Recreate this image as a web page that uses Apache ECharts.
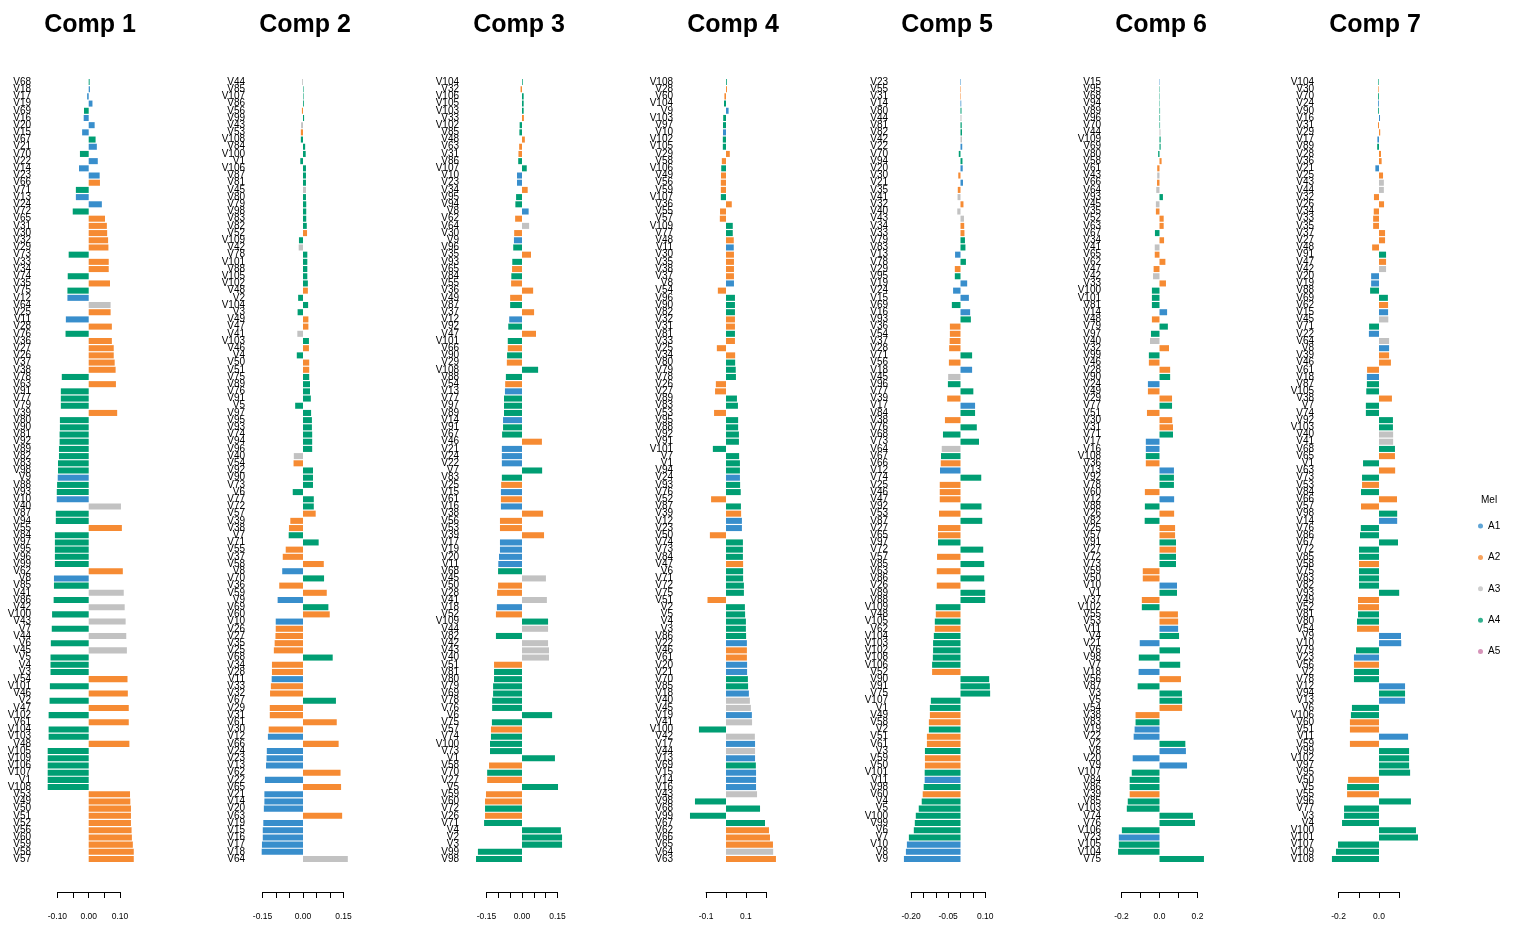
<!DOCTYPE html>
<html><head><meta charset="utf-8">
<script src="https://cdn.jsdelivr.net/npm/echarts@6/dist/echarts.min.js"></script>
<style>html,body{margin:0;padding:0;background:#fff}#chart{width:1513px;height:928px}</style>
</head><body><div id="chart"></div>
<script>
// ---------------- DATA ----------------
const compTitles = ['Comp 1','Comp 2','Comp 3','Comp 4','Comp 5','Comp 6','Comp 7'];
const groupNames = ['A1','A2','A3','A4','A5'];
const groupColors = ['#388ECC','#F68B33','#C2C2C2','#009E73','#CC79A7'];

const groupA1Vars = ['V8','V9','V10','V11','V12','V13','V14','V15','V16','V17','V18','V19','V20','V21','V22','V23','V24'];
const groupA2Vars = ['V25','V26','V27','V28','V29','V30','V31','V32','V33','V34','V35','V36','V37','V38','V39','V46','V47','V48','V49','V50','V51','V52','V53','V54','V55','V56','V57','V58','V59','V60','V61','V62','V63','V65','V66'];
const groupA3Vars = ['V40','V41','V42','V43','V44','V45','V64'];
const groupA4Vars = ['V1','V2','V3','V4','V5','V6','V7','V67','V68','V69','V70','V71','V72','V73','V74','V75','V76','V77','V78','V79','V80','V81','V82','V83','V84','V85','V86','V87','V88','V89','V90','V91','V92','V93','V94','V95','V96','V97','V98','V99','V100','V101','V102','V103','V104','V105','V106','V107','V108','V109'];
const groupA5Vars = [];

const comp1Vars = ['V68','V18','V17','V19','V69','V16','V20','V15','V67','V21','V70','V22','V14','V23','V66','V71','V13','V24','V72','V65','V31','V30','V32','V29','V73','V33','V34','V74','V35','V75','V12','V64','V25','V11','V28','V76','V36','V27','V26','V37','V38','V78','V63','V91','V77','V79','V39','V80','V90','V81','V92','V89','V82','V83','V98','V9','V88','V93','V10','V40','V87','V94','V55','V84','V97','V95','V96','V99','V62','V8','V85','V41','V86','V42','V100','V43','V7','V44','V6','V45','V5','V4','V3','V54','V101','V46','V2','V47','V102','V61','V104','V103','V48','V105','V109','V106','V107','V1','V108','V53','V49','V50','V51','V52','V56','V60','V59','V58','V57'];
const comp1Vals = [0.003,0.004,-0.005,0.012,-0.015,-0.016,0.019,-0.021,0.022,0.026,-0.028,0.029,-0.031,0.035,0.036,-0.041,-0.041,0.042,-0.051,0.052,0.058,0.059,0.062,0.063,-0.064,0.064,0.064,-0.067,0.068,-0.068,-0.068,0.070,0.070,-0.073,0.074,-0.074,0.074,0.080,0.080,0.083,0.086,-0.086,0.087,-0.089,-0.089,-0.089,0.091,-0.092,-0.092,-0.093,-0.093,-0.095,-0.095,-0.098,-0.098,-0.099,-0.101,-0.102,-0.102,0.103,-0.105,-0.105,0.106,-0.108,-0.108,-0.108,-0.108,-0.108,0.109,-0.111,-0.111,0.112,-0.112,0.115,-0.117,0.118,-0.118,0.120,-0.121,0.122,-0.122,-0.122,-0.122,0.124,-0.124,0.125,-0.125,0.128,-0.128,0.128,-0.128,-0.128,0.130,-0.131,-0.131,-0.131,-0.131,-0.131,-0.131,0.132,0.133,0.135,0.135,0.135,0.137,0.138,0.141,0.144,0.144];

const comp2Vars = ['V44','V85','V107','V86','V56','V99','V43','V53','V108','V84','V100','V1','V106','V87','V81','V45','V80','V79','V98','V83','V82','V52','V109','V42','V78','V101','V88','V105','V102','V48','V2','V104','V3','V49','V47','V41','V103','V46','V4','V50','V51','V75','V89','V76','V91','V5','V97','V95','V93','V74','V94','V96','V40','V54','V92','V90','V73','V6','V77','V72','V57','V39','V38','V7','V71','V55','V37','V58','V8','V70','V36','V59','V9','V69','V60','V10','V26','V27','V35','V25','V68','V34','V28','V11','V33','V32','V67','V29','V31','V61','V30','V12','V66','V24','V23','V13','V62','V22','V65','V21','V14','V20','V63','V19','V15','V16','V17','V18','V64'];
const comp2Vals = [-0.003,0.002,0.002,0.003,-0.004,0.004,-0.007,-0.008,-0.008,0.008,0.010,-0.010,0.011,0.011,0.011,0.011,0.011,0.012,0.012,0.012,0.014,0.015,-0.015,-0.016,0.016,0.016,0.016,0.016,0.018,0.018,-0.018,0.019,-0.020,0.020,0.020,-0.021,0.022,0.022,-0.023,0.023,0.023,0.023,0.026,0.026,0.029,-0.029,0.030,0.033,0.033,0.034,0.034,0.034,-0.034,-0.035,0.037,0.037,0.037,-0.038,0.040,0.040,0.047,-0.047,-0.052,-0.053,0.058,-0.064,-0.075,0.077,-0.077,0.078,-0.088,0.088,-0.094,0.094,0.099,-0.101,-0.101,-0.102,-0.105,-0.108,0.110,-0.115,-0.115,-0.116,-0.119,-0.122,0.122,-0.123,-0.123,0.125,-0.127,-0.130,0.132,-0.134,-0.135,-0.137,0.139,-0.141,0.141,-0.143,-0.143,-0.145,0.145,-0.147,-0.149,-0.149,-0.152,-0.153,0.166];

const comp3Vars = ['V104','V32','V106','V105','V103','V33','V102','V85','V48','V63','V31','V86','V107','V10','V23','V34','V95','V94','V8','V62','V64','V30','V9','V96','V35','V93','V65','V84','V55','V36','V49','V87','V37','V12','V92','V47','V101','V66','V90','V29','V108','V88','V54','V13','V77','V97','V89','V14','V91','V67','V46','V21','V24','V22','V7','V83','V25','V15','V61','V16','V38','V56','V53','V39','V17','V19','V20','V11','V68','V45','V50','V28','V41','V18','V52','V109','V44','V82','V42','V43','V40','V51','V81','V80','V79','V69','V78','V76','V6','V75','V57','V74','V100','V73','V1','V58','V70','V27','V5','V59','V60','V72','V26','V71','V4','V2','V3','V99','V98'];
const comp3Vals = [0.003,-0.006,0.007,0.007,0.007,0.008,-0.010,-0.011,0.012,-0.012,-0.015,-0.016,0.020,-0.021,-0.021,0.024,-0.025,-0.028,0.028,-0.029,0.030,-0.033,-0.034,-0.037,0.038,-0.041,-0.042,-0.045,-0.046,0.047,-0.050,-0.050,0.051,-0.054,-0.058,0.059,-0.060,-0.060,-0.063,-0.064,0.068,-0.068,-0.071,-0.072,-0.076,-0.076,-0.076,-0.080,-0.080,-0.084,0.084,-0.085,-0.085,-0.085,0.085,-0.085,-0.088,-0.089,-0.089,-0.089,0.089,-0.093,-0.093,0.093,-0.093,-0.093,-0.097,-0.100,-0.101,0.101,-0.101,-0.105,0.105,-0.106,-0.110,0.110,0.110,-0.110,0.110,0.114,0.114,-0.118,-0.118,-0.118,-0.122,-0.122,-0.126,-0.126,0.127,-0.127,-0.131,-0.131,-0.135,-0.135,0.139,-0.139,-0.147,-0.147,0.152,-0.152,-0.156,-0.156,-0.156,-0.160,0.164,0.169,0.169,-0.186,-0.194];

const comp4Vars = ['V108','V28','V60','V104','V9','V103','V97','V10','V102','V105','V29','V58','V106','V49','V56','V59','V107','V36','V55','V57','V109','V77','V48','V11','V30','V35','V38','V37','V8','V54','V96','V90','V82','V32','V31','V81','V33','V25','V34','V80','V79','V78','V26','V27','V89','V83','V53','V95','V88','V92','V91','V101','V7','V1','V94','V24','V93','V76','V52','V87','V39','V12','V23','V50','V74','V73','V84','V47','V6','V71','V72','V75','V51','V2','V5','V4','V3','V86','V22','V46','V61','V20','V21','V70','V85','V18','V40','V45','V19','V41','V100','V42','V17','V44','V13','V69','V15','V14','V16','V43','V98','V68','V99','V67','V62','V66','V65','V64','V63'];
const comp4Vals = [0.004,0.005,-0.008,-0.010,0.013,-0.014,-0.015,-0.015,-0.016,-0.016,0.019,-0.021,-0.024,-0.025,-0.026,-0.026,-0.026,0.029,-0.030,-0.031,0.034,0.034,0.039,0.039,0.040,0.040,0.040,0.040,0.040,-0.041,0.045,0.045,0.045,0.045,0.045,0.045,0.045,-0.046,0.046,0.046,0.049,0.050,-0.051,-0.055,0.055,0.060,-0.060,0.061,0.061,0.065,0.065,-0.066,0.066,0.070,0.070,0.070,0.071,0.074,-0.075,0.075,0.076,0.080,0.080,-0.081,0.085,0.085,0.085,0.086,0.086,0.086,0.090,0.090,-0.093,0.095,0.096,0.100,0.100,0.101,0.105,0.105,0.105,0.106,0.106,0.110,0.111,0.115,0.120,0.125,0.130,0.131,-0.136,0.145,0.146,0.146,0.146,0.150,0.151,0.151,0.151,0.156,-0.156,0.171,-0.181,0.196,0.216,0.221,0.236,0.237,0.251];

const comp5Vars = ['V23','V55','V31','V14','V80','V44','V81','V82','V42','V22','V70','V94','V20','V30','V21','V35','V41','V32','V40','V43','V34','V33','V79','V83','V13','V78','V29','V95','V19','V24','V15','V69','V16','V93','V36','V54','V37','V28','V71','V56','V18','V45','V96','V77','V39','V17','V84','V38','V76','V68','V73','V64','V67','V66','V12','V74','V25','V46','V47','V92','V53','V87','V27','V65','V97','V72','V57','V85','V63','V86','V26','V89','V88','V109','V48','V105','V62','V104','V103','V102','V108','V106','V52','V90','V91','V75','V107','V1','V49','V58','V2','V51','V61','V3','V59','V50','V101','V11','V98','V60','V4','V5','V100','V99','V6','V7','V10','V8','V9'];
const comp5Vals = [0.002,0.002,0.002,0.003,0.004,0.004,0.005,0.006,0.006,0.007,-0.007,0.008,0.009,-0.009,0.010,-0.011,-0.012,0.012,-0.013,0.014,0.015,0.016,0.018,0.020,-0.022,0.022,-0.023,-0.023,0.027,-0.030,0.034,-0.035,0.039,0.042,-0.043,-0.043,-0.044,-0.046,0.047,-0.047,0.047,-0.050,-0.051,0.052,-0.054,0.059,0.059,-0.063,0.066,-0.071,0.075,-0.076,-0.079,-0.080,-0.083,0.084,-0.084,-0.084,-0.084,0.085,-0.087,0.088,-0.091,-0.091,-0.091,0.092,-0.095,0.096,-0.096,0.096,-0.096,0.100,0.100,-0.100,-0.100,-0.104,-0.104,-0.108,-0.111,-0.111,-0.112,-0.115,-0.115,0.116,0.119,0.120,-0.120,-0.124,-0.124,-0.128,-0.128,-0.136,-0.136,-0.144,-0.144,-0.144,-0.145,-0.145,-0.149,-0.153,-0.157,-0.169,-0.181,-0.185,-0.189,-0.209,-0.217,-0.221,-0.229];

const comp6Vars = ['V15','V95','V68','V94','V89','V96','V70','V44','V109','V69','V80','V58','V61','V43','V66','V64','V93','V45','V35','V52','V63','V67','V34','V41','V65','V62','V47','V42','V33','V100','V101','V81','V14','V48','V79','V97','V40','V32','V99','V46','V28','V90','V24','V49','V29','V77','V51','V30','V31','V71','V17','V16','V108','V36','V13','V92','V78','V60','V12','V88','V26','V82','V25','V57','V91','V27','V72','V73','V59','V50','V10','V1','V37','V102','V55','V53','V11','V4','V21','V6','V98','V7','V18','V56','V87','V3','V5','V54','V38','V83','V19','V22','V2','V8','V20','V9','V107','V84','V86','V39','V85','V103','V74','V76','V106','V23','V105','V104','V75'];
const comp6Vals = [0.002,0.002,0.002,0.002,0.003,0.003,0.003,0.005,0.006,0.006,-0.007,0.011,-0.012,-0.012,-0.013,-0.017,0.018,-0.019,-0.019,0.022,0.022,-0.024,0.024,-0.025,-0.025,0.031,-0.031,-0.034,0.034,-0.040,-0.040,-0.040,0.040,-0.040,0.044,-0.045,-0.050,0.050,-0.056,-0.056,0.056,0.056,-0.061,-0.061,0.066,0.066,-0.066,0.067,0.071,0.071,-0.072,-0.072,-0.072,-0.072,0.076,0.076,0.076,-0.077,0.077,-0.077,0.077,-0.078,0.082,0.082,0.087,0.087,0.087,0.087,-0.088,-0.088,0.092,0.092,-0.093,-0.093,0.097,0.098,0.098,0.103,-0.104,0.108,-0.109,0.109,-0.110,0.113,-0.115,0.118,0.119,0.119,-0.126,-0.126,-0.131,-0.136,0.136,0.139,-0.141,0.145,-0.146,-0.157,-0.157,-0.157,-0.167,-0.172,0.176,0.187,-0.198,-0.214,-0.214,-0.218,0.234];

const comp7Vars = ['V104','V30','V70','V24','V90','V16','V31','V29','V17','V89','V28','V36','V21','V25','V43','V44','V32','V26','V34','V33','V35','V37','V27','V48','V91','V47','V42','V20','V19','V88','V69','V62','V15','V45','V71','V22','V64','V8','V39','V46','V61','V18','V87','V105','V38','V7','V74','V92','V103','V40','V41','V68','V65','V1','V63','V73','V53','V84','V66','V57','V98','V14','V76','V86','V67','V72','V85','V58','V75','V83','V82','V93','V49','V52','V81','V80','V54','V9','V10','V79','V23','V56','V2','V78','V12','V94','V13','V6','V106','V60','V51','V11','V59','V99','V102','V97','V95','V50','V5','V55','V96','V77','V3','V4','V100','V101','V107','V109','V108'];
const comp7Vals = [-0.003,-0.003,-0.004,-0.004,-0.004,0.005,-0.005,0.006,-0.008,-0.009,0.010,0.013,-0.018,0.020,0.024,0.024,-0.025,0.025,-0.026,-0.029,-0.029,0.030,0.030,-0.034,0.035,0.035,0.035,-0.039,-0.039,-0.044,0.044,0.045,0.045,0.046,-0.049,-0.050,0.050,0.050,0.050,0.059,-0.059,-0.060,-0.060,-0.063,0.064,-0.065,-0.065,0.069,0.069,0.070,0.070,0.079,0.079,-0.079,0.080,-0.084,-0.084,-0.089,0.089,-0.089,0.090,0.090,-0.090,-0.094,0.094,-0.099,-0.099,-0.099,-0.099,-0.099,-0.099,0.100,-0.104,-0.104,-0.104,-0.109,-0.109,0.109,0.110,-0.114,-0.124,-0.124,-0.124,-0.124,0.129,0.129,0.129,-0.134,-0.139,-0.144,-0.144,0.144,-0.144,0.149,0.149,0.149,0.154,-0.153,-0.158,-0.158,0.158,-0.173,-0.173,-0.183,0.183,0.193,-0.203,-0.213,-0.233];

// axis ticks (values) and the tick labels that are printed
const comp1Ticks = [-0.10,-0.05,0.00,0.05,0.10];         const comp1TickLabels = ['-0.10','0.00','0.10'];
const comp2Ticks = [-0.15,-0.10,-0.05,0.00,0.05,0.10,0.15]; const comp2TickLabels = ['-0.15','0.00','0.15'];
const comp3Ticks = [-0.15,-0.10,-0.05,0.00,0.05,0.10,0.15]; const comp3TickLabels = ['-0.15','0.00','0.15'];
const comp4Ticks = [-0.1,0.0,0.1,0.2];                     const comp4TickLabels = ['-0.1','0.1'];
const comp5Ticks = [-0.20,-0.15,-0.10,-0.05,0.00,0.05,0.10]; const comp5TickLabels = ['-0.20','-0.05','0.10'];
const comp6Ticks = [-0.2,-0.1,0.0,0.1,0.2];                const comp6TickLabels = ['-0.2','0.0','0.2'];
const comp7Ticks = [-0.2,-0.1,0.0,0.1];                    const comp7TickLabels = ['-0.2','0.0'];

// ---------------- LAYOUT ----------------
const panelLayout = [
  {zero: 88.7,  pxPerUnit: 313, labelRight: 31,   titleX: 90},
  {zero: 303,   pxPerUnit: 270, labelRight: 245,  titleX: 305},
  {zero: 522,   pxPerUnit: 237, labelRight: 459,  titleX: 519},
  {zero: 726,   pxPerUnit: 199, labelRight: 673,  titleX: 733},
  {zero: 960.5, pxPerUnit: 247, labelRight: 888,  titleX: 947},
  {zero: 1159.5,pxPerUnit: 190, labelRight: 1101, titleX: 1161},
  {zero: 1379,  pxPerUnit: 202, labelRight: 1314, titleX: 1375}
];
const plotTop = 78.4, plotBottom = 862.6, axisY = 892;
const FONT = "'Liberation Sans', Arial, Helvetica, sans-serif";

const comps = [
  [comp1Vars, comp1Vals, comp1Ticks, comp1TickLabels],
  [comp2Vars, comp2Vals, comp2Ticks, comp2TickLabels],
  [comp3Vars, comp3Vals, comp3Ticks, comp3TickLabels],
  [comp4Vars, comp4Vals, comp4Ticks, comp4TickLabels],
  [comp5Vars, comp5Vals, comp5Ticks, comp5TickLabels],
  [comp6Vars, comp6Vals, comp6Ticks, comp6TickLabels],
  [comp7Vars, comp7Vals, comp7Ticks, comp7TickLabels]
];

const groupLists = [groupA1Vars, groupA2Vars, groupA3Vars, groupA4Vars, groupA5Vars];
const colorOf = {};
groupLists.forEach((lst, g) => lst.forEach(v => { colorOf[v] = groupColors[g]; }));

const grids = [], xAxes = [], yAxes = [], series = [], titles = [];
comps.forEach((c, k) => {
  const [vars, vals, ticks, tickLabels] = c;
  const L = panelLayout[k];
  const tmin = ticks[0], tmax = ticks[ticks.length - 1];
  const step = ticks[1] - ticks[0];
  const left = L.zero + tmin * L.pxPerUnit;
  const width = (tmax - tmin) * L.pxPerUnit;
  const dec = tickLabels[0].split('.')[1].length;
  grids.push({left: left, width: width, top: plotTop, height: plotBottom - plotTop, containLabel: false});
  xAxes.push({
    type: 'value', gridIndex: k, min: tmin, max: tmax, interval: +step.toFixed(4),
    position: 'bottom', offset: axisY - plotBottom,
    axisLine: {show: true, onZero: false, lineStyle: {color: '#000', width: 1}},
    axisTick: {show: true, length: 6, lineStyle: {color: '#000', width: 1}},
    splitLine: {show: false},
    axisLabel: {
      color: '#000', fontSize: 8.5, fontFamily: FONT, margin: 20, showMinLabel: true, showMaxLabel: true,
      formatter: (v) => { if (Math.abs(v) < 1e-9) v = 0; const t = v.toFixed(dec); return tickLabels.includes(t) ? t : ''; }
    }
  });
  yAxes.push({
    type: 'category', gridIndex: k, data: vars, inverse: true,
    axisLine: {show: false, onZero: false}, axisTick: {show: false}, splitLine: {show: false},
    axisLabel: {interval: 0, color: '#000', fontSize: 10, fontFamily: FONT, margin: left - L.labelRight}
  });
  series.push({
    type: 'bar', name: compTitles[k], xAxisIndex: k, yAxisIndex: k, clip: false,
    barCategoryGap: '16%', animation: false,
    data: vals.map((v, i) => ({value: v, itemStyle: {color: colorOf[vars[i]]}}))
  });
  titles.push({text: compTitles[k], left: L.titleX, top: 13, textAlign: 'center', padding: 0,
    textStyle: {fontSize: 25, fontWeight: 'bold', color: '#000', fontFamily: FONT}});
});
titles.push({text: 'Mel', left: 1481, top: 495, padding: 0, textStyle: {fontSize: 10, fontWeight: 'normal', color: '#000', fontFamily: FONT}});

groupNames.forEach((g, i) => {
  series.push({type: 'scatter', name: g, xAxisIndex: 0, yAxisIndex: 0, data: [], itemStyle: {color: groupColors[i]}});
});

const option = {
  animation: false,
  backgroundColor: '#fff',
  title: titles,
  legend: {
    data: groupNames, orient: 'vertical', left: 1478, top: 520, icon: 'circle', padding: 0,
    itemWidth: 5, itemHeight: 5, itemGap: 19.4,
    textStyle: {fontSize: 10, color: '#000', fontFamily: FONT, lineHeight: 12}
  },
  grid: grids, xAxis: xAxes, yAxis: yAxes, series: series
};
const chart = echarts.init(document.getElementById('chart'));
chart.setOption(option);
</script></body></html>
